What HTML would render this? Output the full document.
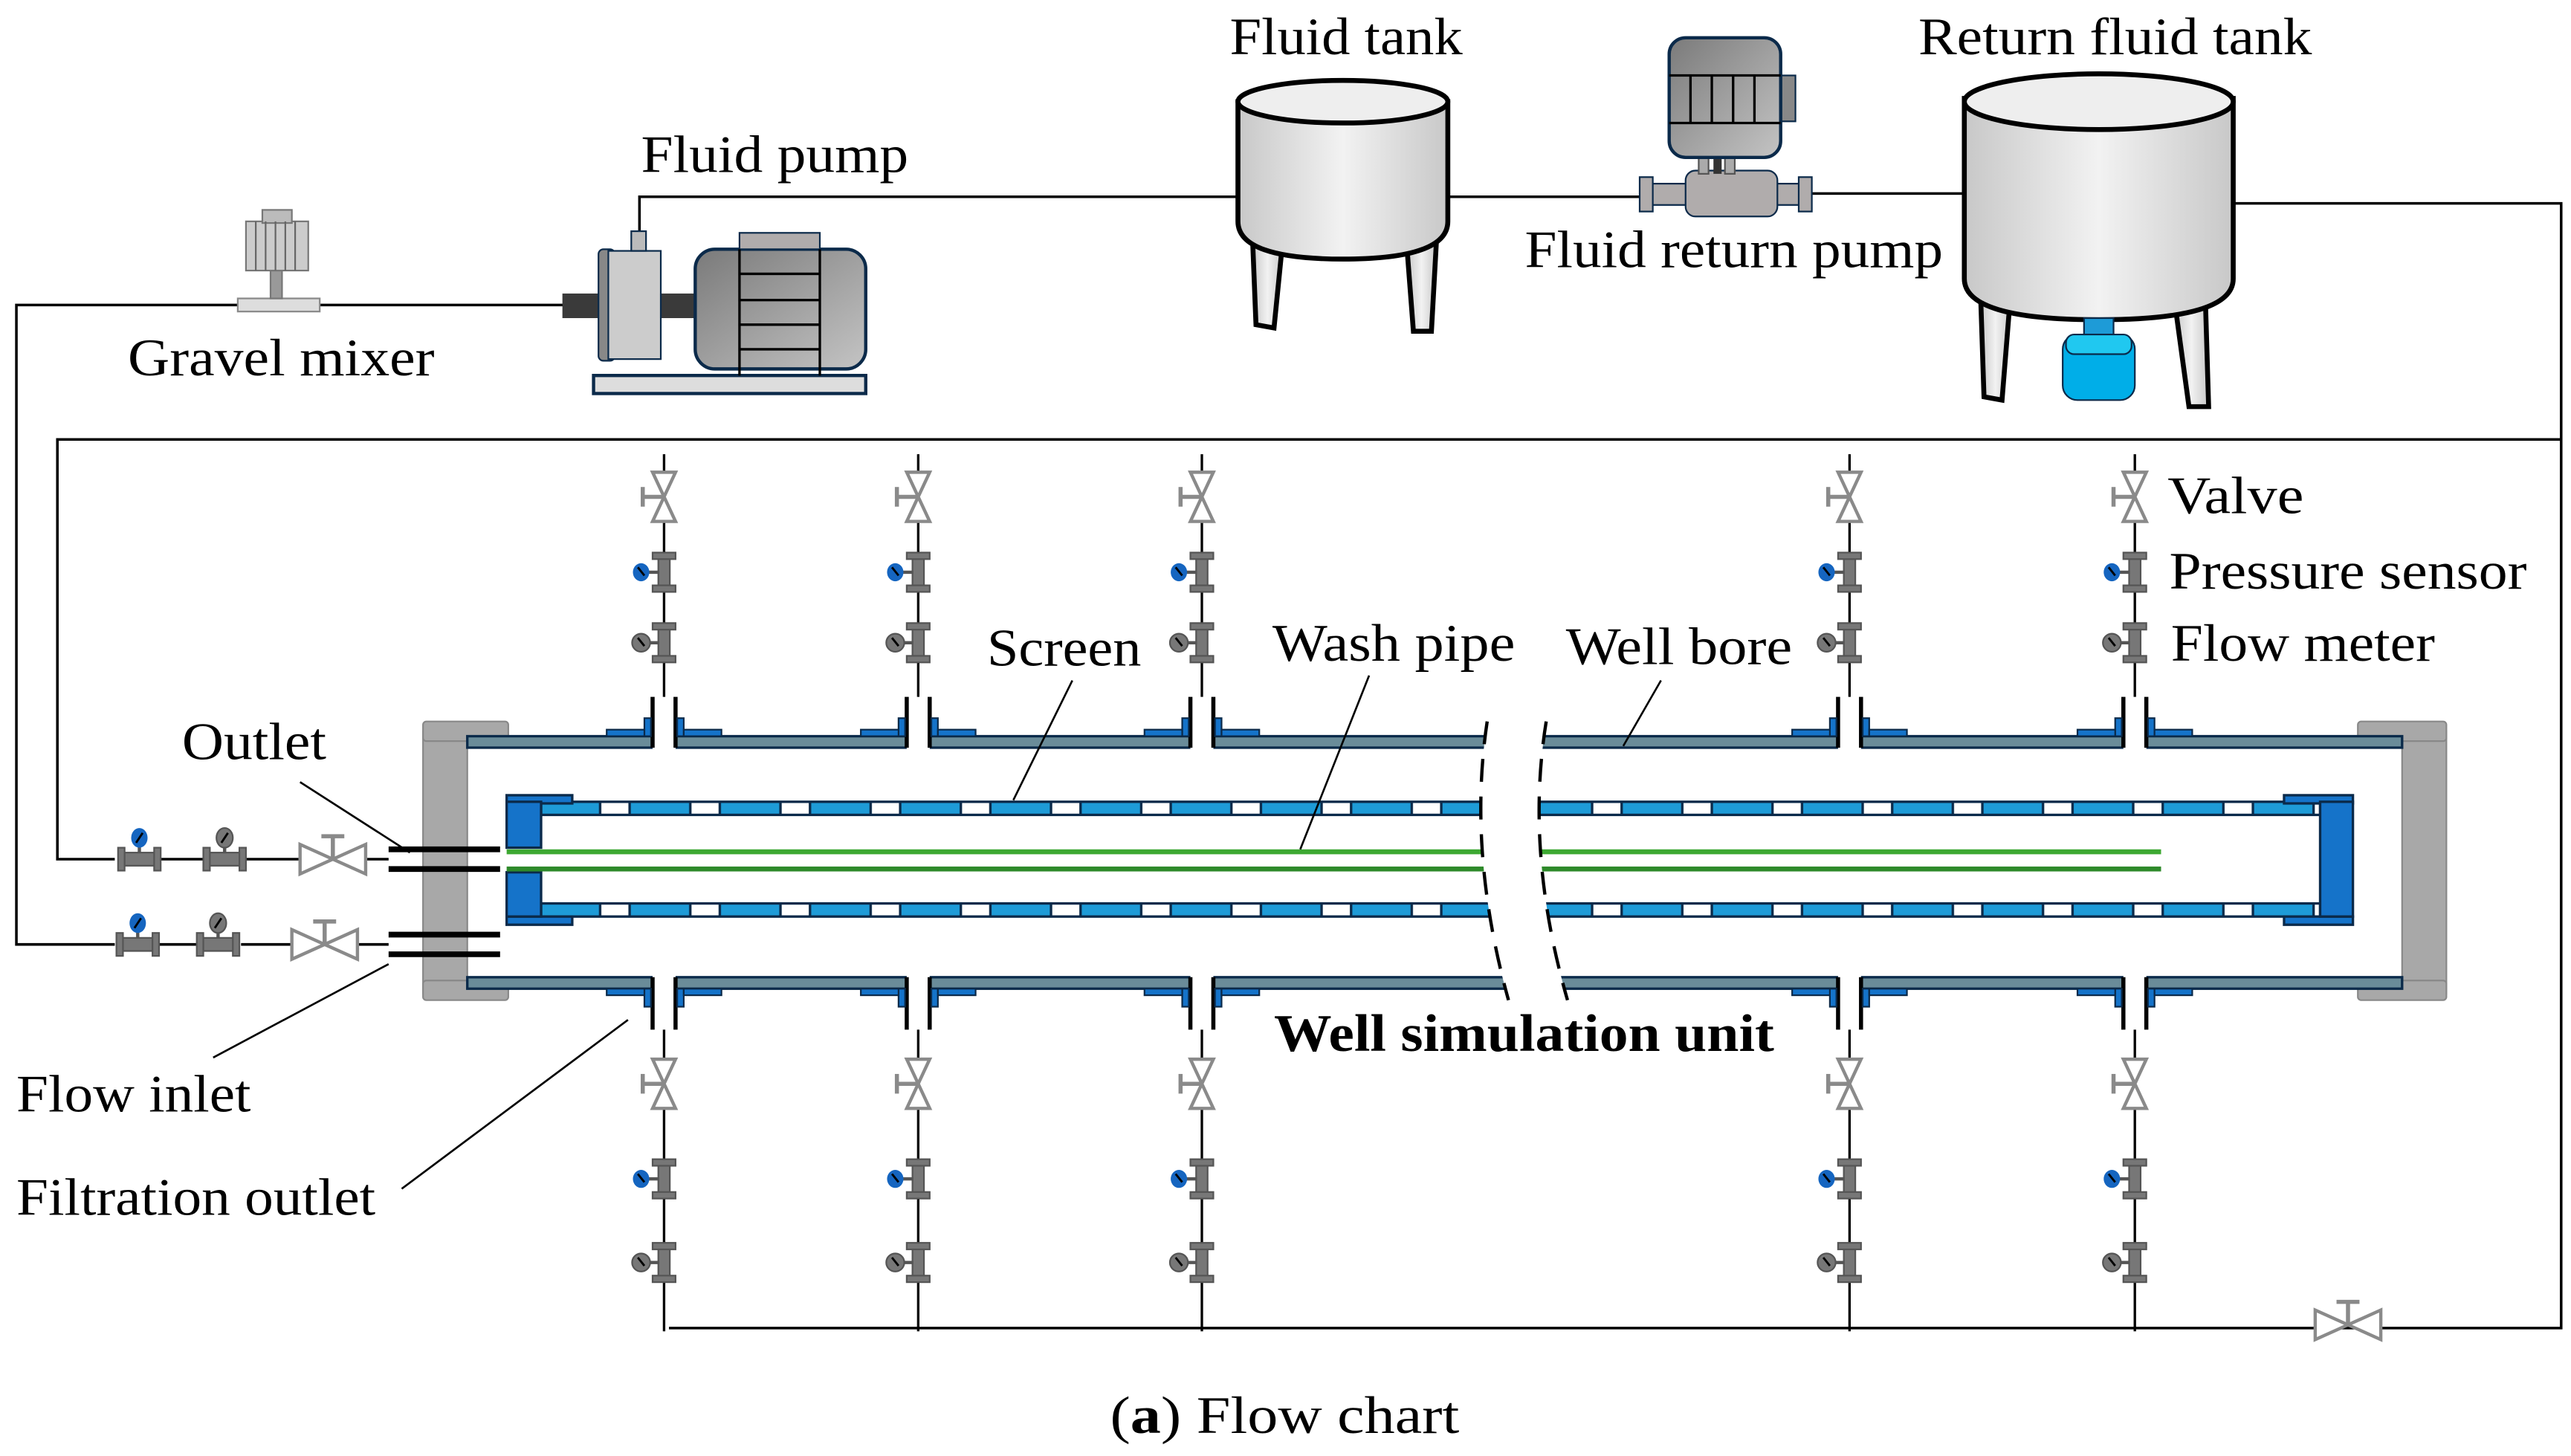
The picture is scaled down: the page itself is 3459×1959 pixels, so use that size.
<!DOCTYPE html>
<html><head><meta charset="utf-8"><style>html,body{margin:0;padding:0;background:#fff}svg{display:block}text{font-family:"Liberation Serif",serif;fill:#000}</style></head><body>
<svg width="3459" height="1959" viewBox="0 0 1568 888" xmlns="http://www.w3.org/2000/svg">
<defs>
<linearGradient id="tg" x1="0" x2="1"><stop offset="0" stop-color="#c8c8c8"/><stop offset=".5" stop-color="#f2f2f2"/><stop offset="1" stop-color="#c8c8c8"/></linearGradient>
<linearGradient id="mg" x1="0" y1="0" x2="1" y2="1"><stop offset="0" stop-color="#7a7a7a"/><stop offset="1" stop-color="#c4c4c4"/></linearGradient>
<pattern id="scr" x="330" y="0" width="55" height="20" patternUnits="userSpaceOnUse"><rect width="55" height="20" fill="#1e9bd7"/><rect x="36" y="0" width="18" height="20" fill="#fff" stroke="#0b2a4a" stroke-width="1.5"/></pattern>
<g id="vv"><polygon points="-7,-15 7,-15 0,0" fill="#fff" stroke="#8a8a8a" stroke-width="2"/><polygon points="0,0 -7,15 7,15" fill="#fff" stroke="#8a8a8a" stroke-width="2"/><line x1="-13" y1="0" x2="0" y2="0" stroke="#8a8a8a" stroke-width="2.5"/><line x1="-13" y1="-6" x2="-13" y2="6" stroke="#8a8a8a" stroke-width="2.5"/></g>
<g id="vh"><polygon points="-20,-9 -20,9 0,0" fill="#fff" stroke="#8a8a8a" stroke-width="2"/><polygon points="0,0 20,-9 20,9" fill="#fff" stroke="#8a8a8a" stroke-width="2"/><line x1="0" y1="0" x2="0" y2="-14" stroke="#8a8a8a" stroke-width="2.5"/><line x1="-7" y1="-14" x2="7" y2="-14" stroke="#8a8a8a" stroke-width="2.5"/></g>
<g id="sv"><rect x="-3.5" y="-10" width="7" height="20" fill="#777" stroke="#555"/><rect x="-7" y="-12" width="14" height="4" fill="#777" stroke="#555"/><rect x="-7" y="8" width="14" height="4" fill="#777" stroke="#555"/><line x1="-10" y1="0" x2="-3" y2="0" stroke="#555" stroke-width="2"/></g>
<g id="sh"><rect x="-10" y="-4" width="20" height="8" fill="#777" stroke="#555"/><rect x="-13" y="-7" width="4" height="14" fill="#777" stroke="#555"/><rect x="9" y="-7" width="4" height="14" fill="#777" stroke="#555"/><line x1="0" y1="-4" x2="0" y2="-9" stroke="#555" stroke-width="2"/></g>
<g id="ps"><use href="#sv"/><ellipse cx="-14" cy="0" rx="5" ry="5.5" fill="#1565c0"/><line x1="-16" y1="-3" x2="-12" y2="2" stroke="#000" stroke-width="1.3"/></g>
<g id="fm"><use href="#sv"/><ellipse cx="-14" cy="0" rx="5.5" ry="5.5" fill="#777" stroke="#555"/><line x1="-16" y1="-3" x2="-12" y2="2" stroke="#000" stroke-width="1.3"/></g>
<g id="psh"><use href="#sh"/><ellipse cx="0" cy="-13" rx="5" ry="6" fill="#1565c0"/><line x1="-2" y1="-10" x2="2" y2="-16" stroke="#000" stroke-width="1.3"/></g>
<g id="fmh"><use href="#sh"/><ellipse cx="0" cy="-13" rx="5" ry="6" fill="#777" stroke="#555"/><line x1="-2" y1="-10" x2="2" y2="-16" stroke="#000" stroke-width="1.3"/></g>
<g id="tb"><line x1="0" y1="277" x2="0" y2="425" stroke="#000" stroke-width="1.5"/><use href="#vv" y="303"/><use href="#ps" y="349"/><use href="#fm" y="392"/></g>
<g id="bb"><line x1="0" y1="628" x2="0" y2="812" stroke="#000" stroke-width="1.5"/><use href="#vv" y="661"/><use href="#ps" y="719"/><use href="#fm" y="770"/></g>
</defs>

<!-- main lines -->
<g fill="none" stroke="#000" stroke-width="1.6">
<polyline points="345,186 10,186 10,576 70,576"/>
<polyline points="390,142 390,120 755,120"/>
<line x1="883" y1="120" x2="1000" y2="120"/>
<line x1="1105" y1="118" x2="1198" y2="118"/>
<polyline points="1362,124 1562,124 1562,810 408,810"/>
<polyline points="1562,268 35,268 35,524 70,524"/>
<line x1="98" y1="524" x2="125" y2="524"/><line x1="150" y1="524" x2="237" y2="524"/>
<line x1="97" y1="576" x2="120" y2="576"/><line x1="147" y1="576" x2="237" y2="576"/>
</g>

<!-- gravel mixer -->
<rect x="145" y="182" width="50" height="8" fill="#ddd" stroke="#888"/>
<rect x="165" y="165" width="7" height="17" fill="#999" stroke="#777"/>
<rect x="150" y="135" width="38" height="30" fill="#ccc" stroke="#777"/>
<rect x="160" y="128" width="18" height="8" fill="#bbb" stroke="#777"/>
<g stroke="#666"><line x1="156" y1="135" x2="156" y2="165"/><line x1="162" y1="135" x2="162" y2="165"/><line x1="168" y1="135" x2="168" y2="165"/><line x1="174" y1="135" x2="174" y2="165"/><line x1="180" y1="135" x2="180" y2="165"/></g>

<!-- fluid pump -->
<rect x="343" y="179" width="30" height="15" fill="#3a3a3a"/>
<rect x="400" y="179" width="26" height="15" fill="#3a3a3a"/>
<rect x="362" y="229" width="166" height="11" fill="#ddd" stroke="#0b2a4a" stroke-width="2"/>
<rect x="365" y="152" width="10" height="68" rx="3" fill="#888" stroke="#0b2a4a"/>
<rect x="371" y="153" width="32" height="66" fill="#ccc" stroke="#0b2a4a"/>
<rect x="385" y="141" width="9" height="12" fill="#bbb" stroke="#0b2a4a"/>
<rect x="424" y="152" width="104" height="73" rx="12" fill="url(#mg)" stroke="#0b2a4a" stroke-width="2"/>
<rect x="451" y="142" width="49" height="10" fill="#b0acac" stroke="#0b2a4a"/>
<g stroke="#000" stroke-width="1.5"><line x1="451" y1="152" x2="451" y2="229"/><line x1="500" y1="152" x2="500" y2="229"/><line x1="451" y1="167" x2="500" y2="167"/><line x1="451" y1="183" x2="500" y2="183"/><line x1="451" y1="198" x2="500" y2="198"/><line x1="451" y1="213" x2="500" y2="213"/></g>

<!-- fluid tank -->
<g stroke="#000" stroke-width="3" fill="url(#tg)">
<polygon points="764,148 782,150 777,200 766,198"/><polygon points="858,150 876,148 873,202 862,202"/>
<path d="M755,62 L755,135 Q755,158 819,158 Q883,158 883,135 L883,62 Z"/>
<ellipse cx="819" cy="62" rx="64" ry="13" fill="#eee"/>
</g>

<!-- return pump -->
<rect x="1005" y="112" width="95" height="13" fill="#b0acac" stroke="#0b2a4a"/>
<rect x="1000" y="108" width="8" height="21" fill="#b0acac" stroke="#0b2a4a"/>
<rect x="1097" y="108" width="8" height="21" fill="#b0acac" stroke="#0b2a4a"/>
<rect x="1028" y="104" width="56" height="28" rx="6" fill="#b0acac" stroke="#0b2a4a"/>
<rect x="1036" y="94" width="6" height="12" fill="#aaa" stroke="#555"/><rect x="1052" y="94" width="6" height="12" fill="#aaa" stroke="#555"/><rect x="1045" y="94" width="5" height="12" fill="#333"/>
<rect x="1086" y="46" width="9" height="28" fill="#888" stroke="#0b2a4a"/>
<rect x="1018" y="23" width="68" height="73" rx="10" fill="url(#mg)" stroke="#0b2a4a" stroke-width="2"/>
<g stroke="#000" stroke-width="1.5"><line x1="1018" y1="46" x2="1086" y2="46"/><line x1="1018" y1="75" x2="1086" y2="75"/><line x1="1031" y1="46" x2="1031" y2="75"/><line x1="1044" y1="46" x2="1044" y2="75"/><line x1="1057" y1="46" x2="1057" y2="75"/><line x1="1070" y1="46" x2="1070" y2="75"/></g>

<!-- return tank -->
<g stroke="#000" stroke-width="3" fill="url(#tg)">
<polygon points="1208,182 1226,182 1221,244 1210,242"/><polygon points="1326,182 1345,182 1347,248 1335,248"/>
<path d="M1198,60 L1198,170 Q1198,195 1280,195 Q1362,195 1362,170 L1362,60 Z"/>
<ellipse cx="1280" cy="62" rx="82" ry="17" fill="#eee"/>
</g>
<rect x="1271" y="194" width="18" height="10" fill="#1e9bd7" stroke="#0b2a4a"/>
<rect x="1258" y="204" width="44" height="40" rx="9" fill="#00aee8" stroke="#0b2a4a"/>
<rect x="1260" y="204" width="40" height="12" rx="5" fill="#20c8f0" stroke="#0b2a4a"/>

<!-- well flanges -->
<g fill="#a8a8a8" stroke="#888">
<rect x="258" y="446" width="27" height="160"/><rect x="258" y="440" width="52" height="12" rx="2"/><rect x="258" y="598" width="52" height="12" rx="2"/>
<rect x="1465" y="446" width="27" height="160"/><rect x="1438" y="440" width="54" height="12" rx="2"/><rect x="1438" y="598" width="54" height="12" rx="2"/>
</g>
<!-- casing -->
<rect x="285" y="449" width="1180" height="7" fill="#6a8c99" stroke="#0b2a4a" stroke-width="1.5"/>
<rect x="285" y="596" width="1180" height="7" fill="#6a8c99" stroke="#0b2a4a" stroke-width="1.5"/>
<!-- screen -->
<rect x="330" y="489" width="1085" height="8" fill="url(#scr)" stroke="#0b2a4a" stroke-width="1.5"/>
<rect x="330" y="551" width="1085" height="8" fill="url(#scr)" stroke="#0b2a4a" stroke-width="1.5"/>
<g fill="#1573c9" stroke="#0b2a4a" stroke-width="1.5">
<rect x="309" y="485" width="40" height="5"/><rect x="309" y="559" width="40" height="5"/>
<rect x="309" y="489" width="21" height="28"/><rect x="309" y="532" width="21" height="27"/>
<rect x="1393" y="485" width="42" height="5"/><rect x="1393" y="559" width="42" height="5"/>
<rect x="1415" y="489" width="20" height="70"/>
</g>
<!-- wash pipe -->
<line x1="309" y1="519.5" x2="1318" y2="519.5" stroke="#3da832" stroke-width="3"/>
<line x1="309" y1="530" x2="1318" y2="530" stroke="#2e8a2a" stroke-width="3"/>
<!-- outlet/inlet connectors -->
<g stroke="#000" stroke-width="3.5"><line x1="237" y1="518" x2="305" y2="518"/><line x1="237" y1="530" x2="305" y2="530"/><line x1="237" y1="570" x2="305" y2="570"/><line x1="237" y1="582" x2="305" y2="582"/></g>
<!-- horizontal instruments -->
<use href="#psh" x="85" y="524"/><use href="#fmh" x="137" y="524"/><use href="#vh" x="203" y="524"/>
<use href="#psh" x="84" y="576"/><use href="#fmh" x="133" y="576"/><use href="#vh" x="198" y="576"/>

<!-- branch tees -->
<g id="tees">
<g fill="#fff"><rect x="398" y="440" width="14" height="20"/><rect x="553" y="440" width="14" height="20"/><rect x="726" y="440" width="14" height="20"/><rect x="1121" y="440" width="14" height="20"/><rect x="1295" y="440" width="14" height="20"/>
<rect x="398" y="590" width="14" height="20"/><rect x="553" y="590" width="14" height="20"/><rect x="726" y="590" width="14" height="20"/><rect x="1121" y="590" width="14" height="20"/><rect x="1295" y="590" width="14" height="20"/></g>
</g>
<g stroke="#000" stroke-width="2.5">
<line x1="398" y1="425" x2="398" y2="456"/><line x1="412" y1="425" x2="412" y2="456"/>
<line x1="553" y1="425" x2="553" y2="456"/><line x1="567" y1="425" x2="567" y2="456"/>
<line x1="726" y1="425" x2="726" y2="456"/><line x1="740" y1="425" x2="740" y2="456"/>
<line x1="1121" y1="425" x2="1121" y2="456"/><line x1="1135" y1="425" x2="1135" y2="456"/>
<line x1="1295" y1="425" x2="1295" y2="456"/><line x1="1309" y1="425" x2="1309" y2="456"/>
<line x1="398" y1="596" x2="398" y2="628"/><line x1="412" y1="596" x2="412" y2="628"/>
<line x1="553" y1="596" x2="553" y2="628"/><line x1="567" y1="596" x2="567" y2="628"/>
<line x1="726" y1="596" x2="726" y2="628"/><line x1="740" y1="596" x2="740" y2="628"/>
<line x1="1121" y1="596" x2="1121" y2="628"/><line x1="1135" y1="596" x2="1135" y2="628"/>
<line x1="1295" y1="596" x2="1295" y2="628"/><line x1="1309" y1="596" x2="1309" y2="628"/>
</g>
<g fill="#1573c9" stroke="#0b2a4a" stroke-width="1">
<rect x="393" y="438" width="4" height="11"/><rect x="413" y="438" width="4" height="11"/><rect x="370" y="445" width="23" height="4"/><rect x="417" y="445" width="23" height="4"/>
<rect x="548" y="438" width="4" height="11"/><rect x="568" y="438" width="4" height="11"/><rect x="525" y="445" width="23" height="4"/><rect x="572" y="445" width="23" height="4"/>
<rect x="721" y="438" width="4" height="11"/><rect x="741" y="438" width="4" height="11"/><rect x="698" y="445" width="23" height="4"/><rect x="745" y="445" width="23" height="4"/>
<rect x="1116" y="438" width="4" height="11"/><rect x="1136" y="438" width="4" height="11"/><rect x="1093" y="445" width="23" height="4"/><rect x="1140" y="445" width="23" height="4"/>
<rect x="1290" y="438" width="4" height="11"/><rect x="1310" y="438" width="4" height="11"/><rect x="1267" y="445" width="23" height="4"/><rect x="1314" y="445" width="23" height="4"/>
<rect x="393" y="603" width="4" height="11"/><rect x="413" y="603" width="4" height="11"/><rect x="370" y="603" width="23" height="4"/><rect x="417" y="603" width="23" height="4"/>
<rect x="548" y="603" width="4" height="11"/><rect x="568" y="603" width="4" height="11"/><rect x="525" y="603" width="23" height="4"/><rect x="572" y="603" width="23" height="4"/>
<rect x="721" y="603" width="4" height="11"/><rect x="741" y="603" width="4" height="11"/><rect x="698" y="603" width="23" height="4"/><rect x="745" y="603" width="23" height="4"/>
<rect x="1116" y="603" width="4" height="11"/><rect x="1136" y="603" width="4" height="11"/><rect x="1093" y="603" width="23" height="4"/><rect x="1140" y="603" width="23" height="4"/>
<rect x="1290" y="603" width="4" height="11"/><rect x="1310" y="603" width="4" height="11"/><rect x="1267" y="603" width="23" height="4"/><rect x="1314" y="603" width="23" height="4"/>
</g>
<use href="#tb" x="405"/><use href="#tb" x="560"/><use href="#tb" x="733"/><use href="#tb" x="1128"/><use href="#tb" x="1302"/>
<use href="#bb" x="405"/><use href="#bb" x="560"/><use href="#bb" x="733"/><use href="#bb" x="1128"/><use href="#bb" x="1302"/>
<use href="#vh" x="1432" y="808"/>

<!-- break -->
<path d="M907,440 Q895,520 920,610 L956,610 Q930,520 943,440 Z" fill="#fff"/>
<g fill="none" stroke="#000" stroke-width="2" stroke-dasharray="14,9">
<path d="M907,440 Q895,520 920,610"/><path d="M943,440 Q930,520 956,610"/>
</g>

<!-- leader lines -->
<g stroke="#000" stroke-width="1.2">
<line x1="183" y1="477" x2="250" y2="520"/><line x1="130" y1="645" x2="237" y2="588"/><line x1="245" y1="725" x2="383" y2="622"/>
<line x1="654" y1="415" x2="618" y2="488"/><line x1="835" y1="412" x2="793" y2="518"/><line x1="1013" y1="415" x2="990" y2="455"/>
</g>

<!-- text -->
<g font-size="32">
<text x="750" y="33" textLength="142" lengthAdjust="spacingAndGlyphs">Fluid tank</text>
<text x="1170" y="33" textLength="240" lengthAdjust="spacingAndGlyphs">Return fluid tank</text>
<text x="391" y="105" textLength="163" lengthAdjust="spacingAndGlyphs">Fluid pump</text>
<text x="930" y="163" textLength="255" lengthAdjust="spacingAndGlyphs">Fluid return pump</text>
<text x="78" y="229" textLength="187" lengthAdjust="spacingAndGlyphs">Gravel mixer</text>
<text x="1322" y="313" textLength="83" lengthAdjust="spacingAndGlyphs">Valve</text>
<text x="1323" y="359" textLength="218" lengthAdjust="spacingAndGlyphs">Pressure sensor</text>
<text x="1324" y="403" textLength="161" lengthAdjust="spacingAndGlyphs">Flow meter</text>
<text x="602" y="406" textLength="94" lengthAdjust="spacingAndGlyphs">Screen</text>
<text x="776" y="403" textLength="148" lengthAdjust="spacingAndGlyphs">Wash pipe</text>
<text x="955" y="405" textLength="138" lengthAdjust="spacingAndGlyphs">Well bore</text>
<text x="111" y="463" textLength="88" lengthAdjust="spacingAndGlyphs">Outlet</text>
<text x="777" y="641" font-weight="bold" textLength="305" lengthAdjust="spacingAndGlyphs">Well simulation unit</text>
<text x="10" y="678" textLength="143" lengthAdjust="spacingAndGlyphs">Flow inlet</text>
<text x="10" y="741" textLength="219" lengthAdjust="spacingAndGlyphs">Filtration outlet</text>
<text x="677" y="874" textLength="213" lengthAdjust="spacingAndGlyphs">(<tspan font-weight="bold">a</tspan>) Flow chart</text>
</g>
</svg>
</body></html>
